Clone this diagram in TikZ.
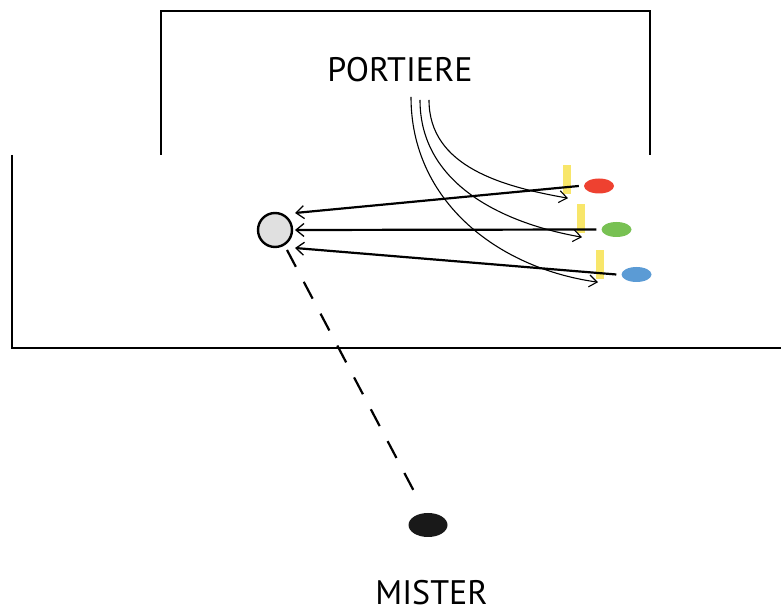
\documentclass[tikz,border=0pt]{standalone}
\usepackage{fontspec}
\setmainfont{PT Sans}
\usepackage{tikz}
\usetikzlibrary{arrows.meta,shapes.geometric}

\definecolor{ballred}{HTML}{EE4130}
\definecolor{ballgreen}{HTML}{78C153}
\definecolor{ballblue}{HTML}{5B9BD5}
\definecolor{coneyellow}{HTML}{F8E66A}
\definecolor{playergray}{HTML}{E0E0E0}

\tikzset{
	label text/.style={font=\fontsize{34}{34}\selectfont, inner sep=0pt, text depth=0pt, anchor=base},
	ball/.style={ellipse, minimum width=30pt, minimum height=15pt, inner sep=0pt},
	cone/.style={fill=coneyellow, minimum width=8pt, minimum height=29pt, inner sep=0pt},
	pass/.style={line width=2.2pt, -{Straight Barb[length=8pt,width=13pt,line width=1.3pt]}},
	run/.style={line width=1.1pt, -{Straight Barb[length=8pt,width=12pt,line width=1.1pt]}},
}

\begin{document}
\begin{tikzpicture}[x=1pt,y=1pt]
	\useasboundingbox (0,0) rectangle (781,610);

	% goal and field
	\draw[line width=2.2pt] (161,455) -- (161,599) -- (650,599) -- (650,455);
	\draw[line width=2.2pt] (12,455) -- (12,262) -- (781,262);

	\node[label text] (portiere) at (400,528) {PORTIERE};
	\node[label text] (mister) at (431.5,6) {MISTER};

	\node[circle, draw, line width=2.4pt, fill=playergray, minimum size=34pt, inner sep=0pt] (player) at (275,380) {};
	\node[ellipse, fill=black!90, minimum width=39pt, minimum height=24pt, inner sep=0pt] (coach) at (428,85) {};

	\foreach \n/\bx/\by/\cx/\cy/\col/\dy in {r/599/424/567/430.5/ballred/17, g/616.5/380.5/581/391.5/ballgreen/0, b/636.5/335.5/600/345.5/ballblue/-18} {
		\node[ball, fill=\col] (ball\n) at (\bx,\by) {};
		\node[cone] (cone\n) at (\cx,\cy) {};
		\draw[pass] ([xshift=-5pt]ball\n.west) -- ([shift={(20pt,\dy pt)}]player.center);
	}

	% runs from the goalkeeper
	\coordinate (s1) at (411,513);
	\coordinate (s2) at (420,510);
	\coordinate (s3) at (429,510);
	\draw[run] (s1) to[out=-90, in=172] ([shift={(-2pt,-3pt)}]coneb.south);
	\draw[run] (s2) to[out=-90, in=170] ([shift={(1pt,-4pt)}]coneg.south);
	\draw[run] (s3) to[out=-90, in=170] ([shift={(1pt,-4pt)}]coner.south);

	\draw[line width=2.2pt, dash pattern=on 19pt off 17pt] ([shift={(12pt,-20pt)}]player.center) -- ([shift={(-11pt,28pt)}]coach.center);
\end{tikzpicture}
\end{document}
